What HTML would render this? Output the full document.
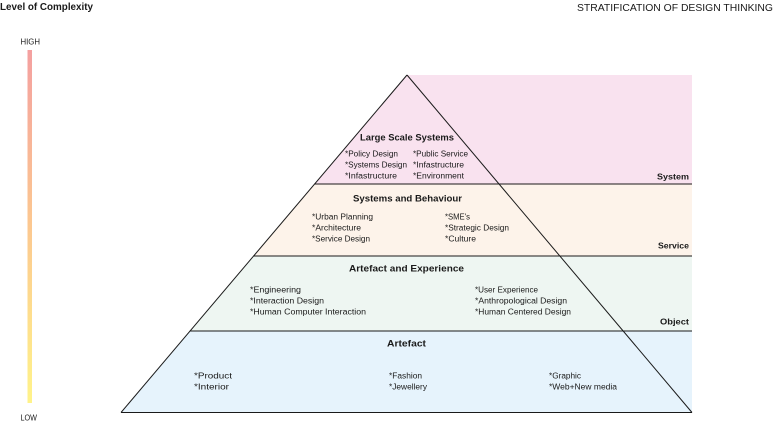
<!DOCTYPE html>
<html><head><meta charset="utf-8"><style>
html,body{margin:0;padding:0;background:#fff;}
svg{display:block;}
text{font-family:"Liberation Sans",sans-serif;fill:#1a1a1a;}
.it{font-size:8px;}
.hd{font-size:9.5px;font-weight:bold;}
</style></head><body>
<svg width="776" height="423" viewBox="0 0 776 423" xmlns="http://www.w3.org/2000/svg">
<defs>
<linearGradient id="g" x1="0" y1="0" x2="0" y2="1">
<stop offset="0" stop-color="#f4a0a0"/>
<stop offset="0.5" stop-color="#fcc890"/>
<stop offset="1" stop-color="#fff38a"/>
</linearGradient>
</defs>
<!-- bands -->
<polygon points="407,75 692,75 692,184 314.5,184" fill="#f9e2ef"/>
<polygon points="314.5,184 692,184 692,256 253.4,256" fill="#fdf3ea"/>
<polygon points="253.4,256 692,256 692,331 189.7,331" fill="#eef6f2"/>
<polygon points="189.7,331 692,331 692,412.5 121,412.5" fill="#e6f3fc"/>
<!-- lines -->
<g stroke="#1a1a1a" stroke-width="1" fill="none">
<line x1="407" y1="75" x2="121" y2="412.5"/>
<line x1="407" y1="75" x2="692" y2="412.5"/>
<line x1="314.5" y1="184" x2="692" y2="184"/>
<line x1="253.4" y1="256" x2="692" y2="256"/>
<line x1="189.7" y1="331" x2="692" y2="331"/>
<line x1="121" y1="412.5" x2="692" y2="412.5"/>
</g>
<!-- gradient bar -->
<rect x="27.5" y="50" width="4.5" height="353" fill="url(#g)"/>
<text x="0" y="10" class="hd" style="font-size:10px" textLength="93" lengthAdjust="spacingAndGlyphs">Level of Complexity</text>
<text x="577" y="11" style="font-size:10px" textLength="196" lengthAdjust="spacingAndGlyphs">STRATIFICATION OF DESIGN THINKING</text>
<text x="20.5" y="44.5" class="it" textLength="19.5" lengthAdjust="spacingAndGlyphs">HIGH</text>
<text x="20.5" y="420.5" class="it" textLength="16.5" lengthAdjust="spacingAndGlyphs">LOW</text>

<!-- System -->
<text x="360" y="140.5" class="hd" textLength="94" lengthAdjust="spacingAndGlyphs">Large Scale Systems</text>
<text x="345" y="156.5" class="it" textLength="53" lengthAdjust="spacingAndGlyphs">*Policy Design</text>
<text x="345" y="167.5" class="it" textLength="62" lengthAdjust="spacingAndGlyphs">*Systems Design</text>
<text x="345" y="178.5" class="it" textLength="52" lengthAdjust="spacingAndGlyphs">*Infastructure</text>
<text x="413" y="156.5" class="it" textLength="55" lengthAdjust="spacingAndGlyphs">*Public Service</text>
<text x="413" y="167.5" class="it" textLength="51" lengthAdjust="spacingAndGlyphs">*Infastructure</text>
<text x="413" y="178.5" class="it" textLength="51" lengthAdjust="spacingAndGlyphs">*Environment</text>
<text x="657" y="179.5" class="hd" style="font-size:8.5px" textLength="32" lengthAdjust="spacingAndGlyphs">System</text>

<!-- Service -->
<text x="353" y="201.5" class="hd" textLength="109" lengthAdjust="spacingAndGlyphs">Systems and Behaviour</text>
<text x="312" y="219.5" class="it" textLength="61" lengthAdjust="spacingAndGlyphs">*Urban Planning</text>
<text x="312" y="230.5" class="it" textLength="49" lengthAdjust="spacingAndGlyphs">*Architecture</text>
<text x="312" y="241.5" class="it" textLength="58" lengthAdjust="spacingAndGlyphs">*Service Design</text>
<text x="445" y="219.5" class="it" textLength="25" lengthAdjust="spacingAndGlyphs">*SME's</text>
<text x="445" y="230.5" class="it" textLength="64" lengthAdjust="spacingAndGlyphs">*Strategic Design</text>
<text x="445" y="241.5" class="it" textLength="31" lengthAdjust="spacingAndGlyphs">*Culture</text>
<text x="658" y="248.5" class="hd" style="font-size:8.5px" textLength="31" lengthAdjust="spacingAndGlyphs">Service</text>

<!-- Object -->
<text x="349" y="271.5" class="hd" textLength="115" lengthAdjust="spacingAndGlyphs">Artefact and Experience</text>
<text x="250" y="292.5" class="it" textLength="51" lengthAdjust="spacingAndGlyphs">*Engineering</text>
<text x="250" y="303.5" class="it" textLength="74" lengthAdjust="spacingAndGlyphs">*Interaction Design</text>
<text x="250" y="314.5" class="it" textLength="116" lengthAdjust="spacingAndGlyphs">*Human Computer Interaction</text>
<text x="475" y="292.5" class="it" textLength="63" lengthAdjust="spacingAndGlyphs">*User Experience</text>
<text x="475" y="303.5" class="it" textLength="92" lengthAdjust="spacingAndGlyphs">*Anthropological Design</text>
<text x="475" y="314.5" class="it" textLength="96" lengthAdjust="spacingAndGlyphs">*Human Centered Design</text>
<text x="660" y="324.5" class="hd" style="font-size:8.5px" textLength="29" lengthAdjust="spacingAndGlyphs">Object</text>

<!-- Artefact -->
<text x="387" y="346.5" class="hd" textLength="39" lengthAdjust="spacingAndGlyphs">Artefact</text>
<text x="194" y="378.5" class="it" textLength="38" lengthAdjust="spacingAndGlyphs">*Product</text>
<text x="194" y="389.5" class="it" textLength="35" lengthAdjust="spacingAndGlyphs">*Interior</text>
<text x="389" y="378.5" class="it" textLength="33" lengthAdjust="spacingAndGlyphs">*Fashion</text>
<text x="389" y="389.5" class="it" textLength="38" lengthAdjust="spacingAndGlyphs">*Jewellery</text>
<text x="549" y="378.5" class="it" textLength="32" lengthAdjust="spacingAndGlyphs">*Graphic</text>
<text x="549" y="389.5" class="it" textLength="68" lengthAdjust="spacingAndGlyphs">*Web+New media</text>
</svg>
</body></html>
